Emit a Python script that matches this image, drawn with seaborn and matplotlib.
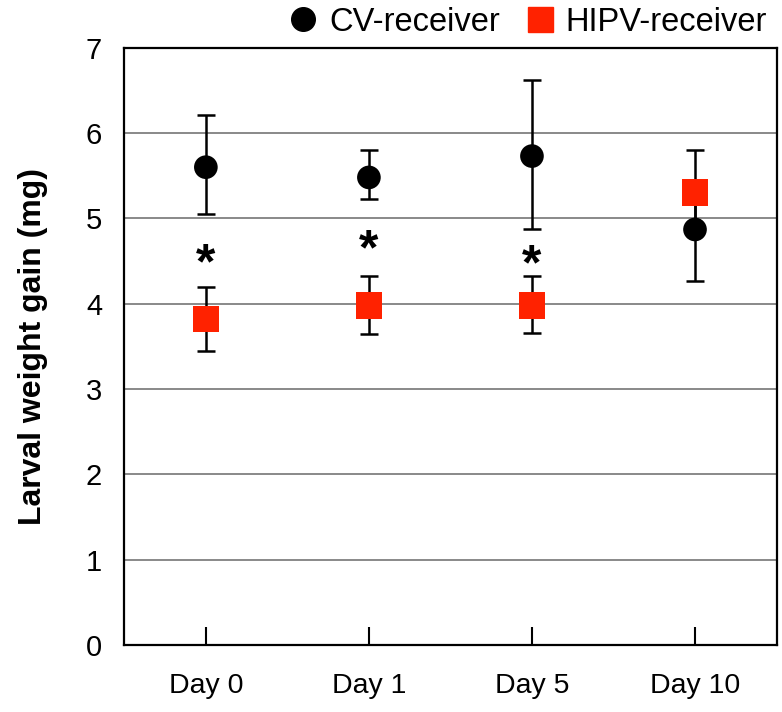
import numpy as np
import pandas as pd
import matplotlib
matplotlib.use("Agg")
import matplotlib.pyplot as plt
import seaborn as sns
from matplotlib.lines import Line2D

# DATA
days = ["Day 0", "Day 1", "Day 5", "Day 10"]
cv_mean = [5.60, 5.48, 5.73, 4.87]
cv_low = [5.05, 5.23, 4.88, 4.27]
cv_high = [6.21, 5.80, 6.62, 5.45]
hipv_mean = [3.82, 3.98, 3.98, 5.30]
hipv_low = [3.45, 3.65, 3.66, 4.90]
hipv_high = [4.20, 4.33, 4.33, 5.80]
significant = [True, True, True, False]
groups = ["CV-receiver", "HIPV-receiver"]

sns.set_theme(style="white", rc={"text.color": "black", "axes.labelcolor": "black",
                                 "xtick.color": "black", "ytick.color": "black"})
plt.rcParams["font.family"] = ["Liberation Sans", "DejaVu Sans"]

COLORS = {"CV-receiver": "black", "HIPV-receiver": "#ff2200"}
MARKERS = {"CV-receiver": "o", "HIPV-receiver": "s"}
SIZES = {"CV-receiver": 290, "HIPV-receiver": 370}

df = pd.DataFrame({
    "day": days * 2,
    "group": [groups[0]] * 4 + [groups[1]] * 4,
    "mean": cv_mean + hipv_mean,
    "low": cv_low + hipv_low,
    "high": cv_high + hipv_high,
})
df["pos"] = df["day"].map({d: i for i, d in enumerate(days)})

fig = plt.figure(figsize=(7.82, 7.12), dpi=100)
ax = fig.add_axes([0.159, 0.094, 0.834, 0.839])

# horizontal grid lines
for y in range(1, 7):
    ax.axhline(y, color="#808080", lw=1.3, zorder=1)

# error bars (behind the markers)
for g in groups:
    sub = df[df["group"] == g]
    ax.errorbar(sub["pos"], sub["mean"],
                yerr=[sub["mean"] - sub["low"], sub["high"] - sub["mean"]],
                fmt="none", ecolor="black", elinewidth=1.8, capsize=6.5, capthick=1.8, zorder=2)

sns.scatterplot(data=df, x="pos", y="mean", hue="group", style="group", size="group",
                palette=COLORS, markers=MARKERS, sizes=SIZES, edgecolor="none",
                linewidth=0, legend=False, ax=ax, zorder=3)

# significance stars between the two bars
for i, d in enumerate(days):
    if significant[i]:
        ystar = (cv_low[i] + hipv_high[i]) / 2
        ax.text(i, ystar - 0.17, "*", ha="center", va="center",
                fontsize=36, fontweight="bold", color="black")

ax.set_xlim(-0.5, len(days) - 0.5)
ax.set_ylim(0, 7)
ax.set_xticks(range(len(days)))
ax.set_xticklabels(days)
ax.set_yticks(range(0, 8))
ax.tick_params(axis="x", direction="in", length=13, width=1.5, color="black",
               labelsize=20.5, pad=20, bottom=True)
ax.tick_params(axis="y", length=0, labelsize=21, pad=16, left=False)
ax.set_xlabel("")
ax.set_ylabel("Larval weight gain (mg)", fontsize=23, fontweight="bold", labelpad=27)
for sp in ax.spines.values():
    sp.set_visible(True)
    sp.set_color("black")
    sp.set_linewidth(1.6)

handles = [Line2D([], [], marker=MARKERS[g], color=COLORS[g], linestyle="none",
                  markersize=17 if g == groups[0] else 18) for g in groups]
fig.legend(handles, groups, loc="upper right", bbox_to_anchor=(0.985, 0.995), ncol=2,
           frameon=False, fontsize=23.5, handletextpad=0.2, columnspacing=0.6,
           borderaxespad=0, borderpad=0.1, handlelength=1.2)

fig.savefig("out.png", dpi=100)
